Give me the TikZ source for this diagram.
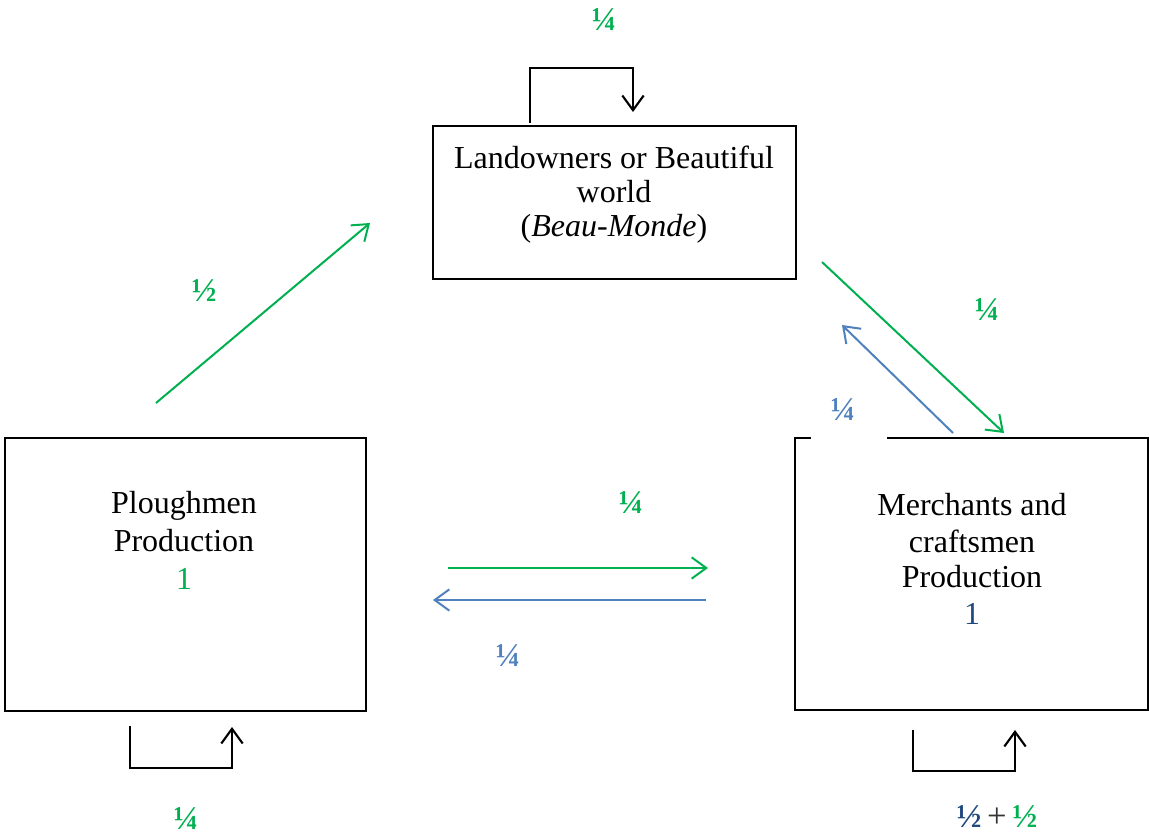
\documentclass[tikz,border=0pt]{standalone}
\usepackage{fontspec}
\setmainfont{Liberation Serif}
\usetikzlibrary{arrows.meta}
\definecolor{flowgreen}{HTML}{00B050}
\definecolor{flowblue}{HTML}{4F81BD}
\definecolor{deepblue}{HTML}{1F497D}
\begin{document}
\begin{tikzpicture}[x=0.75pt,y=-0.75pt,
  box/.style={draw=black, line width=0.9pt, inner sep=0pt, fill=white},
  txt/.style={font=\fontsize{24}{27}\selectfont, inner sep=0pt, align=center},
  frac/.style={font=\fontsize{25}{26}\selectfont\bfseries, inner sep=0pt},
  flow/.style={line width=1.5pt, -{Straight Barb[length=11pt,width=16pt,line width=1.5pt]}},
  loop/.style={line width=1.6pt, black, -{Straight Barb[length=11pt,width=16pt,line width=1.6pt]}}]
\useasboundingbox (0,0) rectangle (1149,836);

% the three sectors
\node[box, minimum width=272.25pt, minimum height=114.75pt] (land) at (614.5,202.5) {};
\node[box, minimum width=270.75pt, minimum height=204.75pt] (plough) at (185.5,574.5) {};
\node[box, minimum width=264.75pt, minimum height=204pt] (merch) at (971.5,574) {};
\fill[white] (811,434) rectangle (887,442);

\node[txt] (landA) at (614,157) {Landowners or Beautiful};
\node[txt] (landB) at (614,192) {world};
\node[txt] (landC) at (614,229) {(\textit{Beau-Monde})};

\node[txt] (ploA) at (184,506) {Ploughmen};
\node[txt] (ploB) at (184,541) {Production};
\node[txt, text=flowgreen] (ploC) at (184,579) {1};

\node[txt] (merA) at (972,505) {Merchants and};
\node[txt] (merB) at (972,541) {craftsmen};
\node[txt] (merC) at (972,577) {Production};
\node[txt, text=deepblue] (merD) at (972,614) {1};

% endpoints of the flows
\coordinate (pl1) at (156,403);
\coordinate (la1) at (370,223);
\coordinate (la2) at (822,262);
\coordinate (me1) at (1004,433);
\coordinate (me2) at (953,433);
\coordinate (la3) at (842,325);
\coordinate (pl2) at (448,568);
\coordinate (me3) at (708,568);
\coordinate (me4) at (706,600);
\coordinate (pl3) at (433,600);

\draw[flow, flowgreen] (pl1) -- (la1);
\draw[flow, flowgreen] (la2) -- (me1);
\draw[flow, flowblue] (me2) -- (la3);
\draw[flow, flowgreen] (pl2) -- (me3);
\draw[flow, flowblue] (me4) -- (pl3);

% self-consumption loops
\coordinate (lt0) at (530,123);
\coordinate (lt1) at (633,112);
\draw[loop] (lt0) |- (581,68) -| (lt1);
\coordinate (pb0) at (130,726);
\coordinate (pb1) at (232,727);
\draw[loop] (pb0) |- (181,768) -| (pb1);
\coordinate (mb0) at (913,730);
\coordinate (mb1) at (1015,730);
\draw[loop] (mb0) |- (964,771) -| (mb1);

% shares
\node[frac, text=flowgreen] (fTop) at (604,20) {¼};
\node[frac, text=flowgreen] (fPL) at (204,291) {½};
\node[frac, text=flowgreen] (fLM) at (987,310) {¼};
\node[frac, text=flowblue] (fML) at (843,410) {¼};
\node[frac, text=flowgreen] (fPM) at (631,503) {¼};
\node[frac, text=flowblue] (fMP) at (508,656) {¼};
\node[frac, text=flowgreen] (fPP) at (186,819) {¼};
\node[frac, inner sep=0pt] (fMM) at (997,817) {\textcolor{deepblue}{½}\,{\fontsize{26}{26}\selectfont\mdseries\color{black!80}+}\,\textcolor{flowgreen}{½}};
\end{tikzpicture}
\end{document}
